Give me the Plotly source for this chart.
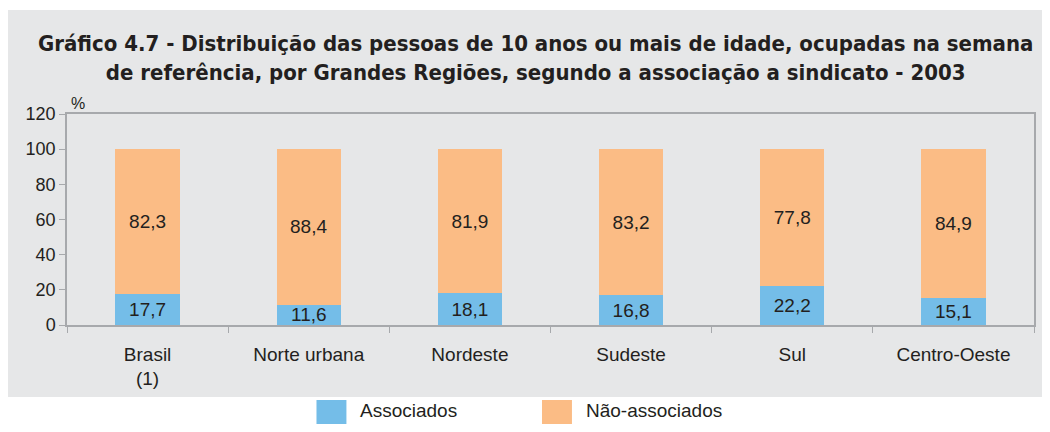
import plotly.graph_objects as go

categories = ["Brasil<br>(1)", "Norte urbana", "Nordeste", "Sudeste", "Sul", "Centro-Oeste"]
associados = [17.7, 11.6, 18.1, 16.8, 22.2, 15.1]
nao_associados = [82.3, 88.4, 81.9, 83.2, 77.8, 84.9]
series_names = ["Associados", "Não-associados"]
y_ticks = [0, 20, 40, 60, 80, 100, 120]

BLUE = "#74BDE8"
ORANGE = "#FBBC85"
GREY_BG = "#E6E7E8"
AXIS = "#A7A9AC"
TXT = "#231F20"
FONT = "Liberation Sans"

def fmt(v):
    return f"{v:.1f}".replace(".", ",")

# page body has an 8px margin; figure sized to fill the remaining viewport
OFF = 8
W, H = 1050 - 2 * OFF, 432 - 2 * OFF
PL, PR, PT, PB = 67 - OFF, 1036 - OFF, 114 - OFF, 325 - OFF  # plot area in figure px
pw, ph = PR - PL, PB - PT

def px_x(x_ref):
    return (x_ref - OFF - PL) / pw

def px_y(y_ref):
    return (PB - (y_ref - OFF)) / ph

fig = go.Figure()
for name, vals, col in [(series_names[0], associados, BLUE), (series_names[1], nao_associados, ORANGE)]:
    fig.add_trace(go.Bar(
        x=categories, y=vals, name=name, marker=dict(color=col, line=dict(width=0)),
        text=[fmt(v) for v in vals], textposition="inside", insidetextanchor="middle",
        textfont=dict(family=FONT, size=19, color=TXT), width=0.4, showlegend=False,
    ))

fig.update_layout(
    width=W, height=H, barmode="stack",
    paper_bgcolor="white", plot_bgcolor="white",
    margin=dict(l=PL, r=W - PR, t=PT, b=H - PB),
    uniformtext=dict(mode="show", minsize=19),
    font=dict(family=FONT, size=19, color=TXT),
    showlegend=False,
)
fig.update_xaxes(
    showline=True, linecolor=AXIS, linewidth=1.5, mirror=True,
    ticks="outside", tickson="boundaries", ticklen=6, tickcolor=AXIS,
    tickfont=dict(family=FONT, size=19, color=TXT), ticklabelstandoff=11,
    showgrid=False,
)
fig.update_yaxes(
    range=[0, 120], tickvals=y_ticks, showline=True, linecolor=AXIS, linewidth=1.5, mirror=True,
    ticks="outside", ticklen=6, tickcolor=AXIS, showgrid=False, zeroline=False,
    tickfont=dict(family=FONT, size=18, color=TXT),
)

# grey panel background
fig.add_shape(type="rect", xref="paper", yref="paper",
              x0=px_x(5), x1=px_x(1060), y0=px_y(397), y1=px_y(10),
              fillcolor=GREY_BG, line=dict(width=0), layer="below")

# title
fig.add_annotation(
    xref="paper", yref="paper", x=px_x(536), xanchor="center",
    y=px_y(58), yanchor="middle",
    text="<b>Gráfico 4.7 - Distribuição das pessoas de 10 anos ou mais de idade, ocupadas na semana<br>de referência, por Grandes Regiões, segundo a associação a sindicato - 2003</b>",
    showarrow=False, align="center",
    font=dict(family="DejaVu Sans Condensed", size=22, color=TXT),
)
# % unit label
fig.add_annotation(xref="paper", yref="paper", x=px_x(69), xanchor="left", y=px_y(103), yanchor="middle",
                   text="%", showarrow=False, font=dict(family=FONT, size=16, color=TXT))

# legend drawn manually
legend_items = [(series_names[0], BLUE, 317), (series_names[1], ORANGE, 543)]
for name, col, x0 in legend_items:
    fig.add_shape(type="rect", xref="paper", yref="paper",
                  x0=px_x(x0), x1=px_x(x0 + 30), y0=px_y(425), y1=px_y(400),
                  fillcolor=col, line=dict(width=0))
    fig.add_annotation(xref="paper", yref="paper", x=px_x(x0 + 43), xanchor="left",
                       y=px_y(410), yanchor="middle", text=name, showarrow=False, borderpad=0,
                       font=dict(family=FONT, size=19, color=TXT))

fig.write_html("out.html")
